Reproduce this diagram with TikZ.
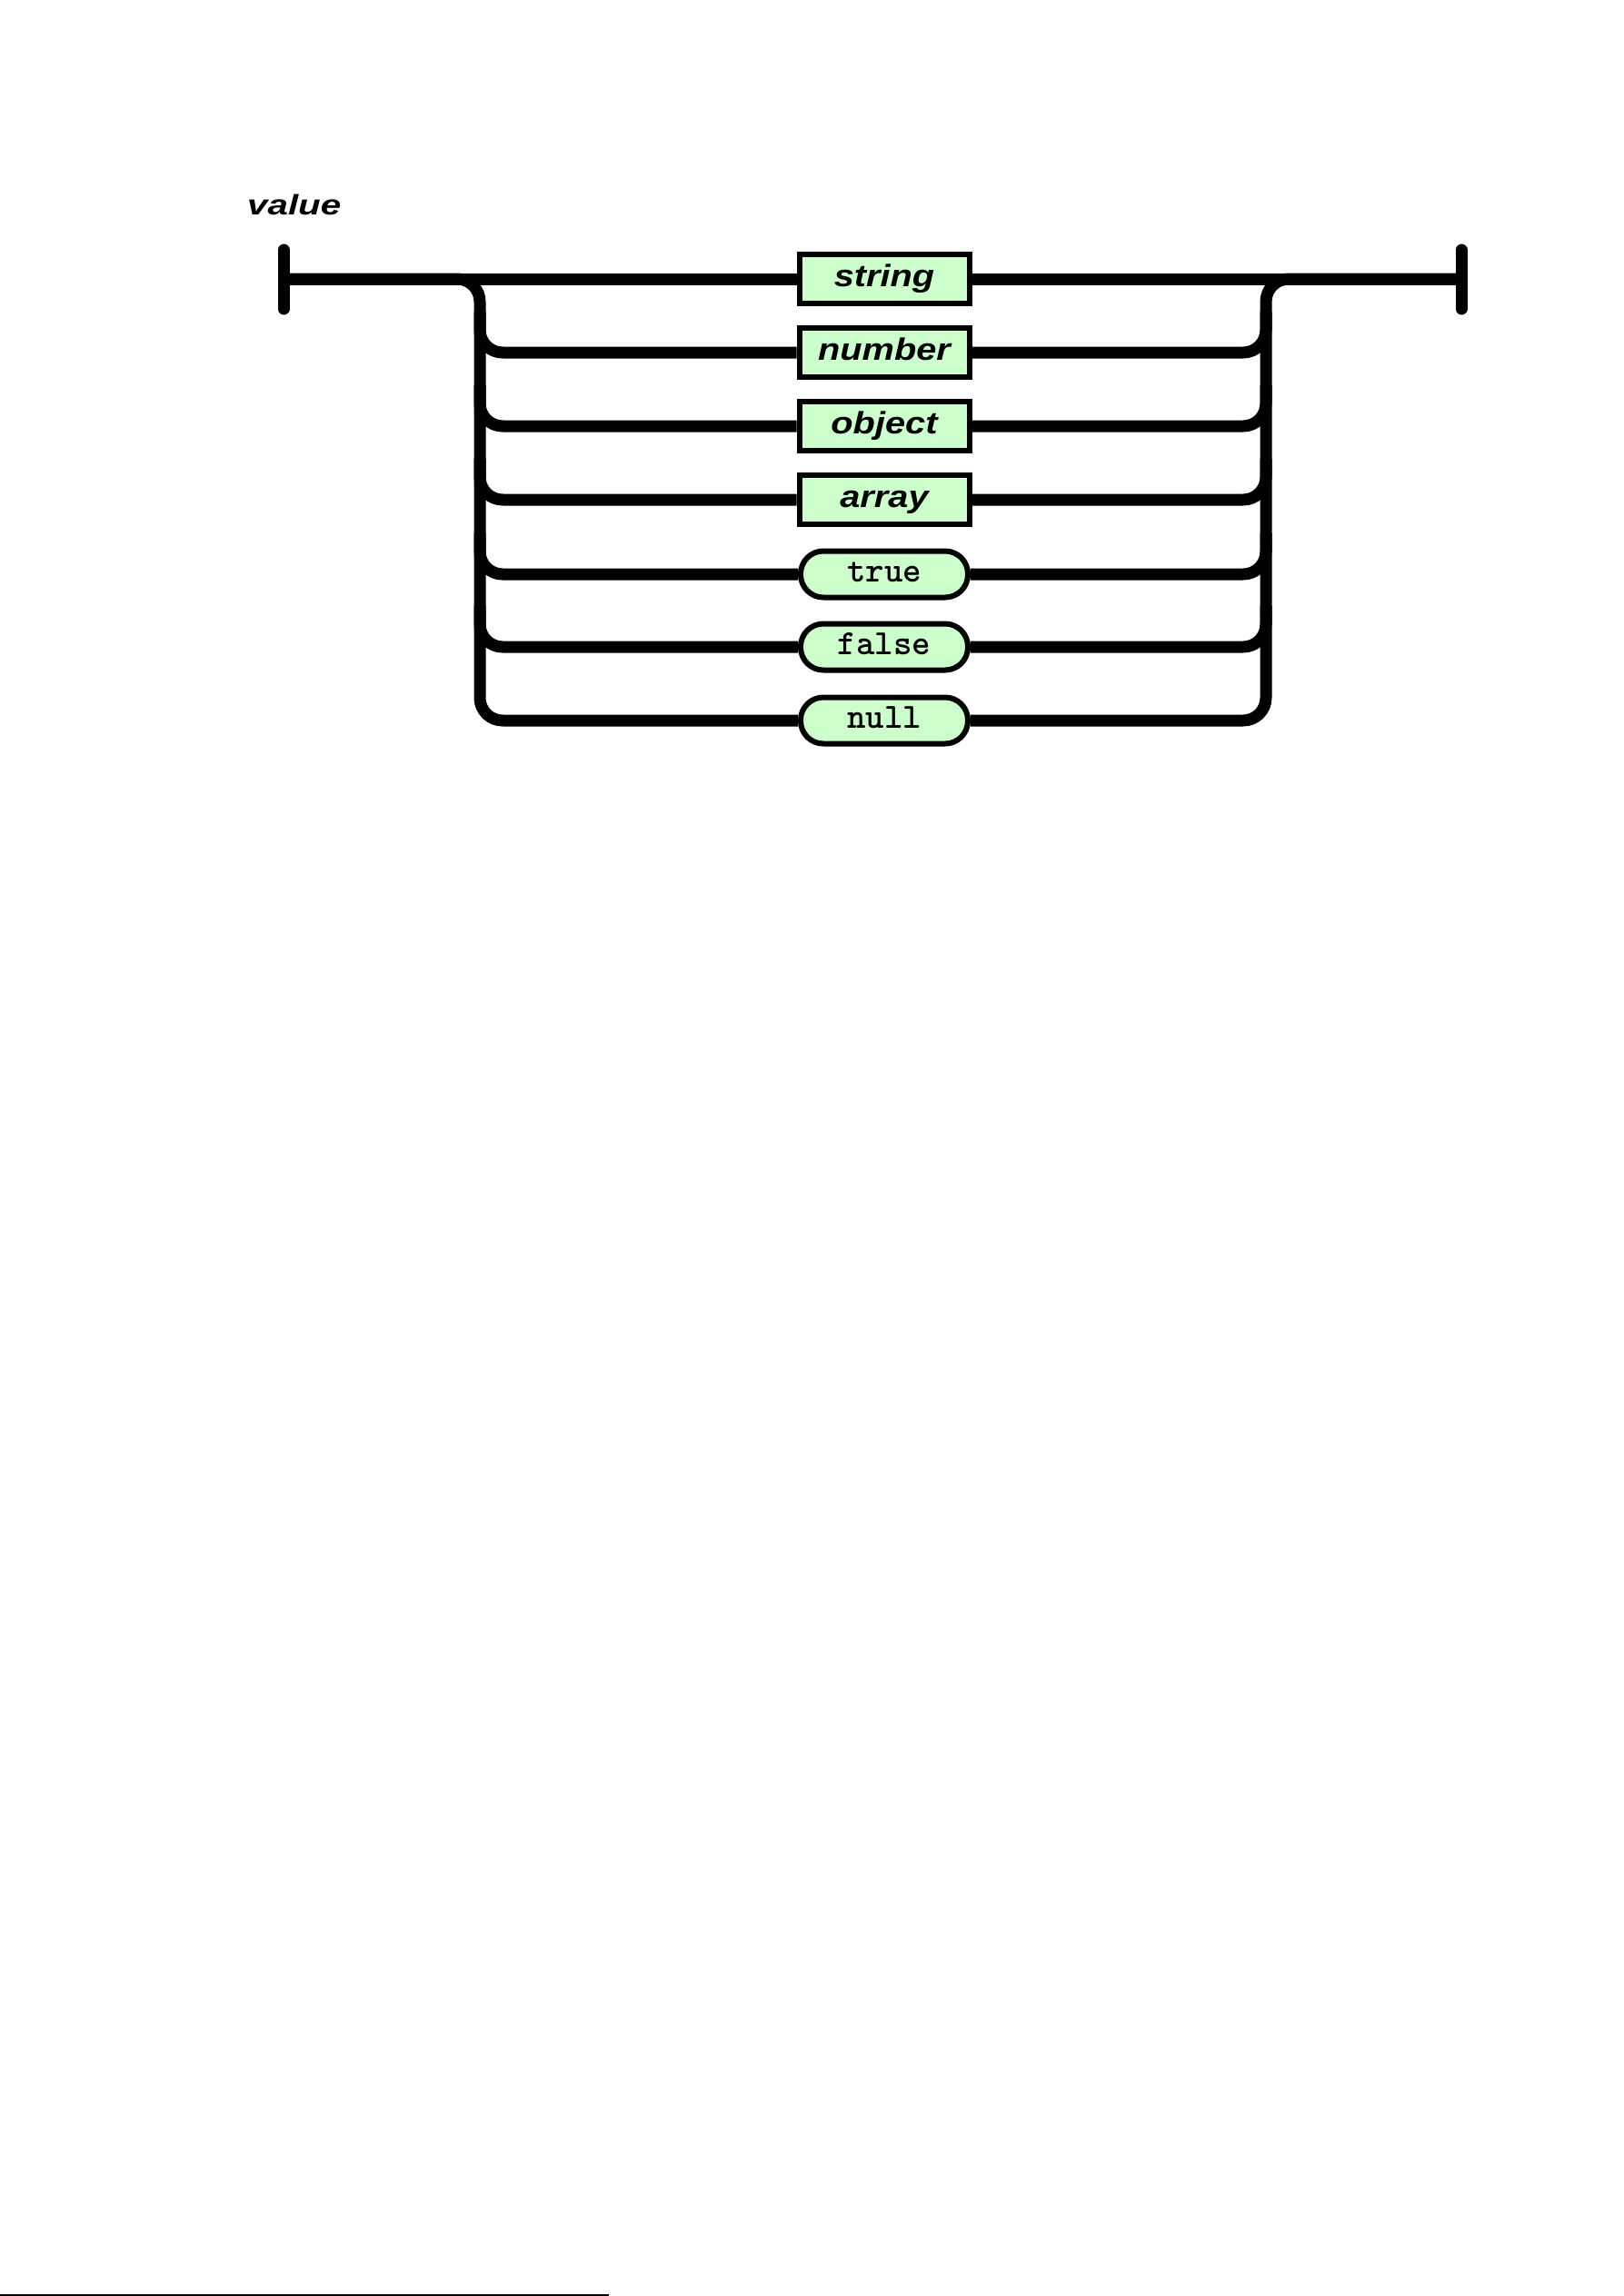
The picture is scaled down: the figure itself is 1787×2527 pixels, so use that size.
\documentclass[tikz,border=0pt]{standalone}
\usepackage{fontspec}
\usepackage{graphicx}
\setmainfont{Liberation Sans}
\usetikzlibrary{backgrounds,calc}
\definecolor{boxgreen}{RGB}{204,255,204}
\begin{document}
\begin{tikzpicture}[x=1pt,y=-1pt,
  rail/.style={line width=13pt, line join=round, rounded corners=25pt},
  term/.style={line width=13pt, line cap=round},
  sbox/.style={draw, line width=6pt, fill=boxgreen, minimum width=187pt, minimum height=54pt,
    inner sep=0pt, text height=24.5pt, text depth=7pt,
    font=\fontsize{34}{40}\selectfont\bfseries\itshape},
  pbox/.style={draw, line width=6pt, fill=boxgreen, rounded corners=25pt, minimum width=184pt,
    minimum height=51pt, inner sep=0pt, text height=24.5pt, text depth=7pt,
    font=\fontsize{39}{44}\selectfont\ttfamily\bfseries},
  title/.style={anchor=base west, inner sep=0pt, font=\fontsize{31}{36}\selectfont\bfseries\itshape}]
\useasboundingbox (0,0) rectangle (1787,2527);

\node[title] (ttl) at (272,236) {\scalebox{1.3}[1]{value}};

\node[sbox] (s)  at (973,307) {\scalebox{1.17}[1]{string}};
\node[sbox] (n)  at (973,388) {\scalebox{1.17}[1]{number}};
\node[sbox] (o)  at (973,469) {\scalebox{1.17}[1]{object}};
\node[sbox] (a)  at (973,550) {\scalebox{1.17}[1]{array}};
\node[pbox] (t)  at (973,632) {true};
\node[pbox] (f)  at (973,712) {false};
\node[pbox] (nl) at (973,793) {null};

\coordinate (L)  at (312,307);
\coordinate (Lt) at (312,275);
\coordinate (Lb) at (312,340);
\coordinate (R)  at (1608,307);
\coordinate (Rt) at (1608,275);
\coordinate (Rb) at (1608,340);
\coordinate (LV) at (528,307);
\coordinate (RV) at (1393,307);
\coordinate (E1) at (0,2526);
\coordinate (E2) at (670,2526);

\begin{scope}[on background layer]
  \fill[white] (0,0) rectangle (1787,2527);
  \draw[term] (Lt) -- (Lb);
  \draw[term] (Rt) -- (Rb);
  \draw[line width=13pt] (L) -- (s.west);
  \draw[line width=13pt] (s.east) -- (R);
  \draw[rail] (L) -- (LV) |- (nl.west);
  \draw[rail] (nl.east) -| (RV) -- (R);
  \foreach \nm in {n,o,a,t,f} {
    \draw[rail] ($(LV |- \nm.west)+(0,-45)$) |- (\nm.west);
    \draw[rail] (\nm.east) -| ($(RV |- \nm.east)+(0,-45)$);
  }
\end{scope}

\draw[line width=2pt] (E1) -- (E2);
\end{tikzpicture}
\end{document}
